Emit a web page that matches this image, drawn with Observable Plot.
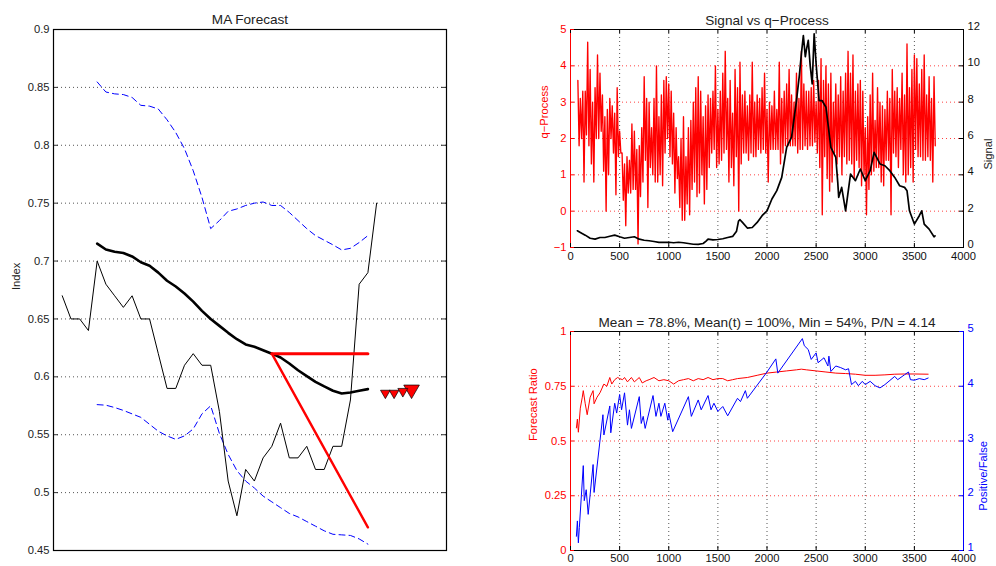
<!DOCTYPE html>
<html><head><meta charset="utf-8">
<script src="https://cdn.jsdelivr.net/npm/d3@7"></script>
<script src="https://cdn.jsdelivr.net/npm/@observablehq/plot@0.6"></script>
<style>
html,body{margin:0;padding:0;background:#fff;}
#wrap{position:relative;width:996px;height:566px;overflow:hidden;background:#fff;}
#wrap svg{background:transparent !important;display:block;max-width:none !important;}
</style></head><body><div id="wrap"></div>
<script>
// ---------------- DATA ----------------
// Left panel: MA Forecast (x = sample index)
const indexTicks = [0.45, 0.5, 0.55, 0.6, 0.65, 0.7, 0.75, 0.8, 0.85, 0.9];
const indexSeries = [0.67,0.65,0.65,0.64,0.70,0.68,0.67,0.66,0.67,0.65,0.65,0.62,0.59,0.59,0.61,0.62,0.61,0.61,0.57,0.51,0.48,0.52,0.51,0.53,0.54,0.56,0.53,0.53,0.54,0.52,0.52,0.54,0.54,0.58,0.68,0.69,0.75];
const maStart = 5;
const maSeries = [0.715,0.710,0.708,0.707,0.704,0.699,0.696,0.690,0.683,0.678,0.672,0.665,0.657,0.650,0.644,0.638,0.6325,0.628,0.626,0.623,0.620,0.6167,0.6115,0.6057,0.6006,0.5957,0.5917,0.588,0.5856,0.5865,0.588,0.5894];
const upperBand = [0.8547,0.846,0.8444,0.8438,0.8413,0.8345,0.8338,0.8313,0.822,0.811,0.797,0.778,0.755,0.728,0.735,0.743,0.745,0.748,0.750,0.751,0.748,0.748,0.742,0.735,0.728,0.722,0.718,0.714,0.7096,0.711,0.716,0.722];
const lowerBand = [0.576,0.5755,0.5735,0.571,0.568,0.565,0.559,0.553,0.549,0.546,0.549,0.555,0.568,0.575,0.551,0.533,0.519,0.510,0.504,0.497,0.492,0.487,0.482,0.479,0.475,0.471,0.467,0.464,0.4635,0.463,0.460,0.4555];
const forecastX = [25, 36];
const forecastFlat = [0.62, 0.62];
const forecastTrend = [0.62, 0.47];
const markerX = [38, 39, 40, 41];
const markerY = [0.586, 0.586, 0.5875, 0.589];
const markerStrength = [3.6, 3.6, 3.7, 5.8];

// Top right: Signal vs q-Process
const timeTicks = [0, 500, 1000, 1500, 2000, 2500, 3000, 3500, 4000];
const qTicks = [-1, 0, 1, 2, 3, 4, 5];
const signalTicks = [0, 2, 4, 6, 8, 10, 12];
const qStart = 75, qStep = 25;
const qHigh = [
 3.6,3.1,3.3,3.3,4.65,3.9,3.0,3.4,
 4.3,3.8,3.2,2.6,2.8,3.1,2.9,2.7,
 3.4,2.2,1.6,1.3,1.5,1.4,2.4,2.2,
 1.7,1.8,2.3,3.7,3.1,3.0,2.3,3.1,
 4.0,2.6,3.2,3.6,3.7,3.5,3.3,2.7,
 2.3,1.5,2.0,2.6,1.5,2.3,2.5,3.0,
 3.4,3.7,3.3,2.6,2.9,3.2,3.1,3.3,
 4.0,2.8,3.3,3.8,4.4,3.1,3.6,2.7,
 3.9,3.4,4.1,3.2,3.3,2.9,3.2,4.1,
 3.0,3.2,3.1,3.4,3.8,2.8,3.0,2.9,
 3.3,2.8,4.1,3.1,3.3,3.5,3.9,3.2,
 3.0,3.8,3.1,4.4,3.5,3.3,3.3,3.4,
 3.6,3.0,3.6,4.2,3.6,4.0,3.5,3.8,
 3.0,3.5,3.2,3.7,3.3,3.8,4.4,3.8,
 4.3,3.3,3.5,3.6,3.3,2.3,2.6,3.2,
 3.8,2.5,3.4,3.0,2.9,2.8,3.3,3.1,
 3.9,3.3,3.4,3.1,3.8,3.2,4.6,3.4,
 3.9,4.3,4.2,3.5,3.9,4.3,3.2,3.7,
 3.1,3.7];
const qLow = [
 1.8,2.0,0.8,2.1,1.8,1.3,0.8,2.0,
 2.0,2.2,1.1,0.0,1.0,2.0,1.6,0.45,
 1.5,1.6,0.3,-0.4,0.5,0.5,0.6,0.6,
 -0.9,0.4,0.8,1.4,0.1,1.2,1.0,0.8,
 0.8,1.0,0.7,1.6,2.0,1.5,1.3,0.5,
 0.9,0.1,-0.25,-0.25,0.2,-0.1,0.6,0.8,
 0.4,0.5,1.0,0.2,0.6,1.2,1.6,1.7,
 1.2,1.3,1.4,1.6,1.7,0.8,1.2,0.7,
 1.5,0.0,1.3,1.6,1.6,1.4,1.6,1.5,
 1.5,1.7,1.6,1.7,1.6,0.8,1.7,1.7,
 1.7,1.7,1.3,1.6,1.8,1.8,1.8,1.8,
 1.8,1.6,1.7,1.7,1.8,1.7,1.8,1.8,
 1.9,1.6,1.2,-0.1,1.5,0.9,0.55,0.8,
 1.6,1.3,1.5,1.0,1.5,1.3,1.4,1.3,
 0.9,1.4,1.2,0.7,1.0,-0.1,0.6,1.0,
 1.1,1.2,1.2,0.8,0.7,1.4,1.4,-0.1,
 1.6,1.5,1.2,1.7,1.0,0.8,1.0,1.2,
 0.8,1.7,1.5,1.5,1.4,1.4,1.5,1.4,
 0.8,1.8];
const signalX = [70,100,150,200,250,300,350,400,450,500,550,600,650,700,750,800,850,900,950,1000,1050,1100,1150,1200,1250,1300,1350,1380,1400,1450,1500,1550,1600,1650,1690,1710,1725,1750,1800,1850,1900,1950,2000,2050,2100,2150,2200,2250,2300,2330,2350,2370,2390,2400,2420,2440,2460,2480,2500,2530,2560,2600,2650,2700,2720,2730,2760,2800,2850,2900,2950,3000,3050,3090,3150,3200,3250,3300,3350,3400,3425,3450,3500,3550,3575,3600,3650,3700,3710];
const signalY = [0.92,0.83,0.68,0.51,0.46,0.55,0.55,0.62,0.68,0.59,0.51,0.55,0.59,0.46,0.40,0.37,0.33,0.28,0.28,0.29,0.26,0.29,0.26,0.22,0.18,0.17,0.22,0.35,0.46,0.42,0.44,0.48,0.55,0.61,0.9,1.45,1.53,1.38,1.07,1.10,1.38,1.75,2.02,2.67,3.13,3.86,5.51,6.07,8.09,9.5,10.66,11.67,10.5,10.85,11.4,10.0,9.0,11.76,10.1,8.09,8.09,7.72,5.51,4.96,3.6,2.76,3.31,2.02,4.04,3.68,4.32,3.68,4.23,5.24,4.60,4.50,4.23,3.86,3.40,3.31,3.13,2.02,1.29,1.75,2.02,1.29,1.01,0.59,0.64];

// Bottom right: Forecast Ratio & Positive/False
const ratioTicks = [0, 0.25, 0.5, 0.75, 1];
const pfTicks = [1, 2, 3, 4, 5];
const ratioX = [60,70,80,100,120,130,150,170,200,230,240,270,300,340,370,400,420,450,480,500,530,550,580,620,650,700,730,770,800,850,900,950,1000,1050,1100,1150,1200,1250,1300,1350,1400,1450,1500,1550,1600,1650,1700,1800,1900,2000,2100,2200,2300,2350,2400,2500,2600,2700,2800,2900,3000,3100,3200,3300,3400,3500,3640];
const ratioY = [0.56,0.60,0.54,0.65,0.70,0.73,0.67,0.62,0.70,0.73,0.67,0.70,0.72,0.76,0.75,0.79,0.76,0.78,0.79,0.785,0.78,0.79,0.77,0.79,0.77,0.79,0.765,0.775,0.78,0.79,0.775,0.78,0.775,0.76,0.775,0.78,0.785,0.775,0.785,0.78,0.79,0.78,0.785,0.785,0.775,0.78,0.785,0.79,0.80,0.81,0.815,0.82,0.825,0.828,0.825,0.82,0.815,0.81,0.808,0.805,0.80,0.80,0.802,0.805,0.806,0.806,0.805];
const pfX = [60,70,80,90,130,140,160,180,230,240,330,340,400,410,450,470,500,520,550,580,600,620,700,720,740,760,840,870,900,920,960,990,1000,1040,1200,1230,1300,1330,1400,1430,1460,1500,1550,1600,1700,1730,1780,1800,2000,2090,2110,2360,2380,2420,2450,2500,2520,2580,2620,2630,2650,2700,2750,2800,2830,2860,2900,2930,2970,3000,3050,3100,3150,3200,3300,3330,3400,3440,3460,3500,3550,3600,3640];
const pfY = [1.26,1.54,1.14,1.42,2.55,1.91,2.11,1.66,2.57,2.06,3.48,3.11,3.64,3.15,3.69,3.51,3.85,3.57,3.88,3.29,3.57,3.23,3.81,3.32,3.45,3.23,3.83,3.45,3.69,3.45,3.69,3.38,3.51,3.17,3.81,3.45,3.75,3.57,3.83,3.57,3.69,3.54,3.63,3.46,3.78,3.72,3.92,3.78,4.26,4.50,4.24,4.87,4.74,4.67,4.49,4.61,4.43,4.52,4.37,4.55,4.27,4.37,4.34,4.30,4.32,4.03,4.09,4.01,4.09,4.03,4.09,4.01,3.97,4.03,4.18,4.12,4.21,4.26,4.12,4.11,4.14,4.12,4.15];

// ---------------- RENDER ----------------
const wrap = document.getElementById("wrap");
const FONT = '"Liberation Sans", Arial, Helvetica, sans-serif';
const RED = "#ff0000", BLUE = "#0000ff", GRID = "#555555";
const TICKFS = 11.2, TITLEFS = 13.6, LABELFS = 11.2;
const fmt = d => d < 0 ? "\u2212" + Math.abs(d) : String(d);
const style = {fontFamily: FONT, fontSize: TICKFS + "px", background: "transparent", color: "black", overflow: "visible"};
function place(svg, left, top) {
  const d = document.createElement("div");
  d.style.position = "absolute"; d.style.left = left + "px"; d.style.top = top + "px";
  svg.style.background = "transparent";
  d.appendChild(svg); wrap.appendChild(d);
}

// ---- Left panel ----
{
  const W = 460, H = 566, ML = 53, MT = 29, MR = 14, MB = 16;
  const FW = W - ML - MR;
  const gridVals = indexTicks.slice(1, -1);
  const svg = Plot.plot({
    width: W, height: H, marginLeft: ML, marginTop: MT, marginRight: MR, marginBottom: MB,
    style,
    x: {domain: [0, 45], axis: null},
    y: {domain: [0.45, 0.9], axis: null},
    r: {type: "identity"},
    marks: [
      Plot.ruleY(gridVals, {y: d => d, stroke: GRID, strokeDasharray: "1,3"}),
      Plot.tickY(indexTicks, {y: d => d, insetRight: FW - 5, stroke: "#333"}),
      Plot.tickY(indexTicks, {y: d => d, insetLeft: FW - 5, stroke: "#333"}),
      Plot.line(upperBand, {x: (d, i) => maStart + i, y: d => d, stroke: BLUE, strokeWidth: 1, strokeDasharray: "6,4"}),
      Plot.line(lowerBand, {x: (d, i) => maStart + i, y: d => d, stroke: BLUE, strokeWidth: 1, strokeDasharray: "6,4"}),
      Plot.line(indexSeries, {x: (d, i) => i + 1, y: d => d, stroke: "black", strokeWidth: 1}),
      Plot.line(maSeries, {x: (d, i) => maStart + i, y: d => d, stroke: "black", strokeWidth: 2.6}),
      Plot.line(forecastFlat, {x: (d, i) => forecastX[i], y: d => d, stroke: RED, strokeWidth: 3}),
      Plot.line(forecastTrend, {x: (d, i) => forecastX[i], y: d => d, stroke: RED, strokeWidth: 2.4}),
      Plot.dot(markerX, {x: d => d, y: (d, i) => markerY[i], r: (d, i) => markerStrength[i], symbol: "triangle", rotate: 180, fill: RED, stroke: "black", strokeWidth: 0.7}),
      Plot.frame({stroke: "black", strokeWidth: 1.2}),
      Plot.text(indexTicks, {y: d => d, frameAnchor: "left", dx: -4, textAnchor: "end", text: fmt, fill: "#222"}),
      Plot.text(["MA Forecast"], {frameAnchor: "top", dy: -15, text: d => d, fontSize: TITLEFS, fill: "#222"}),
      Plot.text(["Index"], {frameAnchor: "left", dx: -37, rotate: -90, text: d => d, fontSize: LABELFS, fill: "#222"})
    ]
  });
  place(svg, 0, 0);
}

// ---- Top right panel ----
{
  const W = 496, H = 270, ML = 70, MT = 29, MR = 33, MB = 23;
  const FW = W - ML - MR, FH = H - MT - MB;
  const qZig = [];
  qHigh.forEach((h, i) => {
    qZig.push({t: qStart + qStep * i, q: h});
    qZig.push({t: qStart + qStep * i + qStep / 2, q: qLow[i]});
  });
  const inner = timeTicks.slice(1, -1);
  const a = Plot.plot({
    width: W, height: H, marginLeft: ML, marginTop: MT, marginRight: MR, marginBottom: MB,
    style,
    x: {domain: [0, 4000], axis: null},
    y: {domain: [-1, 5], axis: null},
    marks: [
      Plot.ruleX(inner, {x: d => d, stroke: GRID, strokeDasharray: "1,3"}),
      Plot.ruleY(qTicks.slice(1, -1), {y: d => d, stroke: RED, strokeOpacity: 0.75, strokeDasharray: "1,3"}),
      Plot.line(qZig, {x: "t", y: "q", stroke: RED, strokeWidth: 1.35}),
      Plot.frame({stroke: "black"}),
      Plot.ruleX([0], {x: d => d, stroke: RED}),
      Plot.tickX(timeTicks, {x: d => d, insetTop: FH - 4, stroke: "black"}),
      Plot.tickX(timeTicks, {x: d => d, insetBottom: FH - 4, stroke: "black"}),
      Plot.tickY(qTicks, {y: d => d, insetRight: FW - 4, stroke: RED}),
      Plot.text(timeTicks, {x: d => d, frameAnchor: "bottom", dy: 12, text: fmt, fill: "#111"}),
      Plot.text(qTicks, {y: d => d, frameAnchor: "left", dx: -4, textAnchor: "end", text: fmt, fill: RED}),
      Plot.text(["Signal vs q\u2212Process"], {frameAnchor: "top", dy: -14, text: d => d, fontSize: TITLEFS, fill: "#222"}),
      Plot.text(["q\u2212Process"], {frameAnchor: "left", dx: -26, rotate: -90, text: d => d, fontSize: LABELFS, fill: RED})
    ]
  });
  place(a, 500, 0);
  const b = Plot.plot({
    width: W, height: H, marginLeft: ML, marginTop: MT, marginRight: MR, marginBottom: MB,
    style,
    x: {domain: [0, 4000], axis: null},
    y: {domain: [0, 12], axis: null},
    marks: [
      Plot.line(signalX, {x: d => d, y: (d, i) => signalY[i], stroke: "black", strokeWidth: 1.7}),
      Plot.tickY(signalTicks, {y: d => d, insetLeft: FW - 4, stroke: "black"}),
      Plot.text(signalTicks, {y: d => d, frameAnchor: "right", dx: 4, dy: -3, textAnchor: "start", text: fmt, fill: "#111"}),
      Plot.text(["Signal"], {frameAnchor: "right", dx: 25, rotate: -90, text: d => d, fontSize: LABELFS, fill: "#222"})
    ]
  });
  place(b, 500, 0);
}

// ---- Bottom right panel ----
{
  const W = 496, H = 266, ML = 70, MT = 31, MR = 33, MB = 16;
  const FW = W - ML - MR, FH = H - MT - MB;
  const inner = timeTicks.slice(1, -1);
  const a = Plot.plot({
    width: W, height: H, marginLeft: ML, marginTop: MT, marginRight: MR, marginBottom: MB,
    style,
    x: {domain: [0, 4000], axis: null},
    y: {domain: [0, 1], axis: null},
    marks: [
      Plot.ruleX(inner, {x: d => d, stroke: GRID, strokeDasharray: "1,3"}),
      Plot.ruleY(ratioTicks.slice(1, -1), {y: d => d, stroke: RED, strokeOpacity: 0.75, strokeDasharray: "1,3"}),
      Plot.line(ratioX, {x: d => d, y: (d, i) => ratioY[i], stroke: RED, strokeWidth: 1}),
      Plot.frame({stroke: "black"}),
      Plot.ruleX([0], {x: d => d, stroke: RED}),
      Plot.tickX(timeTicks, {x: d => d, insetTop: FH - 4, stroke: "black"}),
      Plot.tickX(timeTicks, {x: d => d, insetBottom: FH - 4, stroke: "black"}),
      Plot.tickY(ratioTicks, {y: d => d, insetRight: FW - 4, stroke: RED}),
      Plot.text(timeTicks, {x: d => d, frameAnchor: "bottom", dy: 11, text: fmt, fill: "#111"}),
      Plot.text(ratioTicks, {y: d => d, frameAnchor: "left", dx: -4, textAnchor: "end", text: fmt, fill: RED}),
      Plot.text(["Mean = 78.8%, Mean(t) = 100%, Min = 54%, P/N = 4.14"], {frameAnchor: "top", dy: -14, text: d => d, fontSize: TITLEFS, fill: "#222"}),
      Plot.text(["Forecast Ratio"], {frameAnchor: "left", dx: -37, rotate: -90, text: d => d, fontSize: LABELFS, fill: RED})
    ]
  });
  place(a, 500, 300);
  const b = Plot.plot({
    width: W, height: H, marginLeft: ML, marginTop: MT, marginRight: MR, marginBottom: MB,
    style,
    x: {domain: [0, 4000], axis: null},
    y: {domain: [1, 5], axis: null},
    marks: [
      Plot.line(pfX, {x: d => d, y: (d, i) => pfY[i], stroke: BLUE, strokeWidth: 1}),
      Plot.ruleX([4000], {x: d => d, stroke: BLUE}),
      Plot.tickY(pfTicks, {y: d => d, insetLeft: FW - 4, stroke: BLUE}),
      Plot.text(pfTicks, {y: d => d, frameAnchor: "right", dx: 4, dy: -3, textAnchor: "start", text: fmt, fill: BLUE}),
      Plot.text(["Positive/False"], {frameAnchor: "right", dx: 19.5, rotate: -90, text: d => d, fontSize: LABELFS, fill: BLUE})
    ]
  });
  place(b, 500, 300);
}
</script></body></html>
